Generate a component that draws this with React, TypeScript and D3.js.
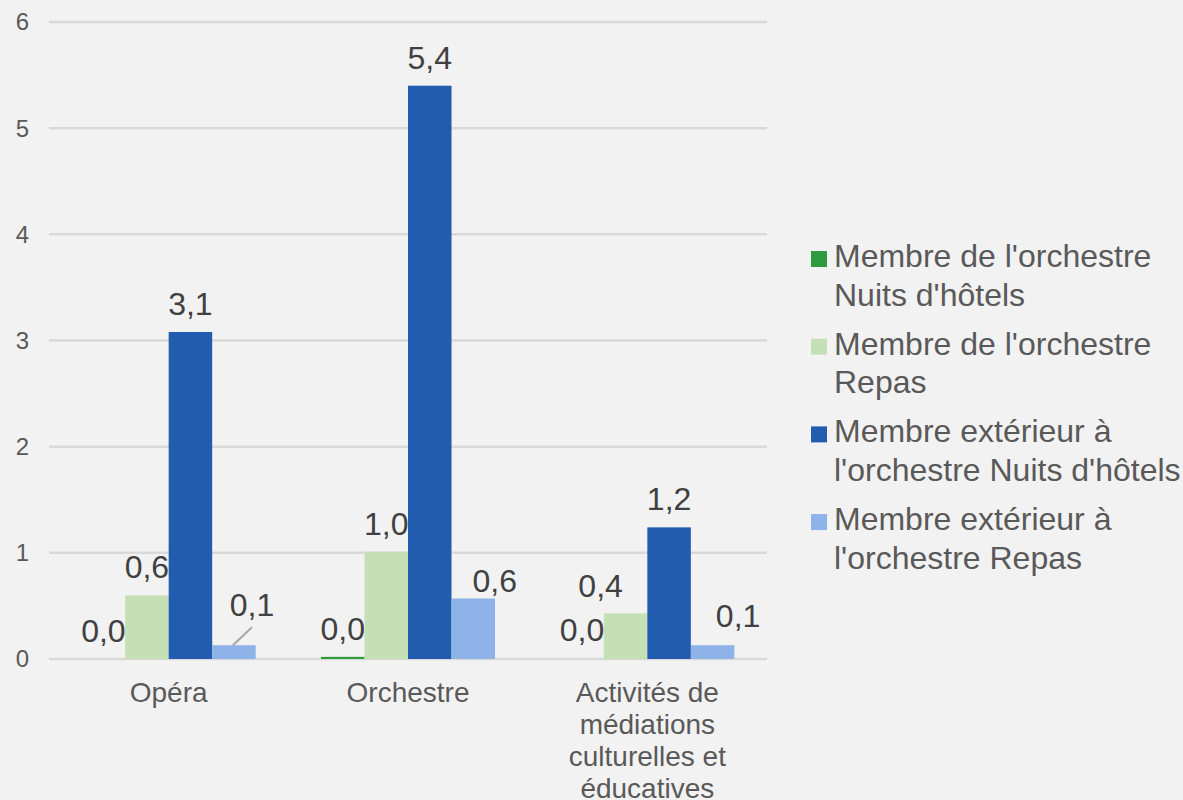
import React from "react";
import * as d3 from "d3";

// Categories (line breaks mark where the axis label wraps)
const categories = [
  "Opéra",
  "Orchestre",
  "Activités de\nmédiations\nculturelles et\néducatives",
];

// Series names (line breaks mark where the legend entry wraps)
const seriesNames = [
  "Membre de l'orchestre\nNuits d'hôtels",
  "Membre de l'orchestre\nRepas",
  "Membre extérieur à\nl'orchestre Nuits d'hôtels",
  "Membre extérieur à\nl'orchestre Repas",
];

// Values per series, one entry per category
const orchestreNuits = [0.0, 0.02, 0.0];
const orchestreRepas = [0.6, 1.01, 0.43];
const exterieurNuits = [3.08, 5.4, 1.24];
const exterieurRepas = [0.13, 0.57, 0.13];

const seriesValues = [orchestreNuits, orchestreRepas, exterieurNuits, exterieurRepas];

const yTicks = [0, 1, 2, 3, 4, 5, 6];

const seriesColors = ["#2e9b3e", "#c5e0b4", "#215caf", "#8db3e8"];

// Hand-placed data-label nudges [series][category] -> [dx, dy]
const labelNudges: [number, number][][] = [
  [[0, 0], [0, 0], [0, -1]],
  [[0, 0], [0, 0], [-25, 1]],
  [[0, 0], [0, 0], [0, 0]],
  [[18, -12], [21.5, 11], [25.5, -1]],
];
// Labels that are connected to their bar by a leader line
const leaderLines = [{ series: 3, category: 0 }];

const W = 1183;
const H = 800;
const plot = { left: 49, right: 767, top: 22, bottom: 659 };
const FONT = "'Liberation Sans', Arial, Helvetica, sans-serif";

const fmt = (v: number) => d3.format(".1f")(v).replace(".", ",");

export default function App() {
  const x0 = d3
    .scaleBand<string>()
    .domain(categories)
    .range([plot.left, plot.right])
    .paddingInner(0)
    .paddingOuter(0);
  const x1 = d3
    .scaleBand<number>()
    .domain(d3.range(seriesValues.length))
    .range([0, x0.bandwidth()])
    .paddingInner(0)
    .paddingOuter(0.75);
  const y = d3.scaleLinear().domain([0, 6]).range([plot.bottom, plot.top]);

  const barW = x1.bandwidth();

  return (
    <svg
      width={W}
      height={H}
      style={{ position: "fixed", left: 0, top: 0, background: "#f2f2f2" }}
      fontFamily={FONT}
    >
      <rect x={0} y={0} width={W} height={H} fill="#f2f2f2" />

      {/* gridlines and value axis */}
      {yTicks.map((t) => (
        <g key={t}>
          <line
            x1={plot.left}
            x2={plot.right}
            y1={y(t)}
            y2={y(t)}
            stroke="#d9d9d9"
            strokeWidth={2.5}
          />
          <text
            x={29}
            y={y(t)}
            dy="0.35em"
            textAnchor="end"
            fontSize={24}
            fill="#595959"
          >
            {t}
          </text>
        </g>
      ))}

      {/* bars */}
      {seriesValues.map((vals, s) =>
        vals.map((v, c) => {
          const bx = (x0(categories[c]) ?? 0) + (x1(s) ?? 0);
          return (
            <rect
              key={`b${s}-${c}`}
              x={bx}
              y={y(v)}
              width={barW}
              height={Math.max(0, y(0) - y(v))}
              fill={seriesColors[s]}
            />
          );
        })
      )}

      {/* leader lines */}
      {leaderLines.map(({ series, category }) => {
        const v = seriesValues[series][category];
        const cx = (x0(categories[category]) ?? 0) + (x1(series) ?? 0) + barW / 2;
        const [dx, dy] = labelNudges[series][category];
        const baseline = y(v) - 17 + dy;
        return (
          <line
            key={`l${series}-${category}`}
            x1={cx - 1}
            y1={y(v)}
            x2={cx + dx}
            y2={baseline + 11}
            stroke="#a6a6a6"
            strokeWidth={2}
          />
        );
      })}

      {/* data labels */}
      {seriesValues.map((vals, s) =>
        vals.map((v, c) => {
          const cx = (x0(categories[c]) ?? 0) + (x1(s) ?? 0) + barW / 2;
          const [dx, dy] = labelNudges[s][c];
          return (
            <text
              key={`t${s}-${c}`}
              x={cx + dx}
              y={y(v) - 17 + dy}
              textAnchor="middle"
              fontSize={32}
              fill="#404040"
            >
              {fmt(v)}
            </text>
          );
        })
      )}

      {/* category labels */}
      {categories.map((cat) => {
        const cx = (x0(cat) ?? 0) + x0.bandwidth() / 2;
        return (
          <text key={cat} textAnchor="middle" fontSize={28} fill="#595959">
            {cat.split("\n").map((line, i) => (
              <tspan key={i} x={cx} y={702 + i * 32}>
                {line}
              </tspan>
            ))}
          </text>
        );
      })}

      {/* legend */}
      {seriesNames.map((name, s) => {
        const top = 267 + s * 87.7;
        return (
          <g key={name}>
            <rect x={811} y={top - 16} width={16} height={16} fill={seriesColors[s]} />
            <text fontSize={32} fill="#595959">
              {name.split("\n").map((line, i) => (
                <tspan key={i} x={834} y={top + i * 38.5}>
                  {line}
                </tspan>
              ))}
            </text>
          </g>
        );
      })}
    </svg>
  );
}
